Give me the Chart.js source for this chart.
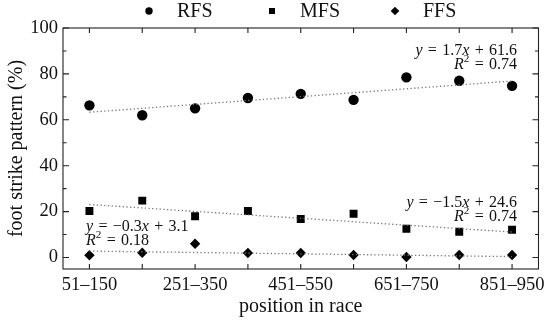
<!DOCTYPE html>
<html>
<head>
<meta charset="utf-8">
<script src="https://cdn.jsdelivr.net/npm/chart.js@4/dist/chart.umd.min.js"></script>
<style>
  html, body { margin: 0; padding: 0; background: #fff; }
  #wrap { width: 550px; height: 321px; }
</style>
</head>
<body>
<div id="wrap"><canvas id="fsChart" width="550" height="321"></canvas></div>
<script>
// positions in race, one per group
var positions = ["51–150", "151–250", "251–350", "351–450", "451–550", "551–650", "651–750", "751–850", "851–950"];
var seriesNames = ["RFS", "MFS", "FFS"];

// foot strike pattern (%)
var rfsValues = [66.3, 62.0, 65.0, 69.5, 71.3, 68.7, 78.5, 77.0, 74.8];
var mfsValues = [20.3, 24.8, 18.0, 20.3, 16.8, 19.1, 12.5, 11.2, 12.1];
var ffsValues = [1.0, 2.1, 6.0, 2.0, 2.0, 1.1, 0.2, 1.1, 1.1];

// linear fits as printed on the chart
var fitSlopes = [1.7, -1.5, -0.3];
var fitIntercepts = [61.6, 24.6, 3.1];
var fitR2 = [0.74, 0.74, 0.18];
// fit lines read at first and last group
var rfsTrend = [63.3, 76.9];
var mfsTrend = [23.1, 11.1];
var ffsTrend = [2.8, 0.4];

var yTicks = [0, 20, 40, 60, 80, 100];
var xTicks = [1, 3, 5, 7, 9];

var serif = "\"Liberation Serif\", \"DejaVu Serif\", \"Times New Roman\", serif";
var ink = "#111";
var sp = "\u2004"; // slightly wider space, like TeX math spacing

function toPoints(arr){
	return arr.map(function(v, i){ return {x: i + 1, y: v}; });
}
function trendPoints(t){
	return [{x: 1, y: t[0]}, {x: positions.length, y: t[1]}];
}
function fmt(v){
	return (v < 0 ? "\u2212" : "") + Math.abs(v).toFixed(1);
}

var markerStyles = ["circle", "rect", "rectRot"];

var scatterSet = function(name, vals, idx, r){
	return {
		type: "scatter",
		label: name,
		data: toPoints(vals),
		pointStyle: markerStyles[idx],
		pointRadius: r,
		pointHoverRadius: r,
		backgroundColor: "#000",
		borderColor: "#000",
		borderWidth: 0
	};
};
var trendSet = function(t){
	return {
		type: "line",
		label: "_fit",
		data: trendPoints(t),
		borderColor: "#777",
		borderWidth: 1.3,
		borderDash: [1.3, 2.4],
		pointRadius: 0,
		fill: false
	};
};

// draw rich text runs (italic vars, superscripts)
function drawRuns(ctx, runs, x, y, size, align){
	var widths = runs.map(function(r){
		ctx.font = (r.i ? "italic " : "") + (r.sup ? size * 0.7 : size) + "px " + serif;
		return ctx.measureText(r.t).width;
	});
	var total = widths.reduce(function(a, b){ return a + b; }, 0);
	var cx = align === "right" ? x - total : x;
	runs.forEach(function(r, k){
		ctx.font = (r.i ? "italic " : "") + (r.sup ? size * 0.7 : size) + "px " + serif;
		ctx.fillText(r.t, cx, r.sup ? y - size * 0.35 : y);
		cx += widths[k];
	});
}

var annotations = [
	{idx: 0, x: 517, y: 51, align: "right"},
	{idx: 1, x: 517, y: 203, align: "right"},
	{idx: 2, x: 86, y: 227, align: "left"}
];

var framePlugin = {
	id: "frame",
	afterDatasetsDraw: function(chart){
		var ctx = chart.ctx, a = chart.chartArea;
		var xs = chart.scales.x, ys = chart.scales.y;
		ctx.save();
		ctx.strokeStyle = "#222";
		ctx.lineWidth = 1.1;
		ctx.strokeRect(a.left, a.top, a.right - a.left, a.bottom - a.top);
		ctx.beginPath();
		for(var i = 1; i <= positions.length; i++){
			var px = xs.getPixelForValue(i);
			ctx.moveTo(px, a.bottom); ctx.lineTo(px, a.bottom - 5);
			ctx.moveTo(px, a.top); ctx.lineTo(px, a.top + 5);
		}
		for(var v = 0; v <= 100; v += 10){
			var py = ys.getPixelForValue(v);
			var len = v % 20 === 0 ? 6 : 3.5;
			ctx.moveTo(a.left, py); ctx.lineTo(a.left + len, py);
			ctx.moveTo(a.right, py); ctx.lineTo(a.right - len, py);
		}
		ctx.stroke();

		// fit annotations
		ctx.fillStyle = ink;
		ctx.textBaseline = "middle";
		annotations.forEach(function(an){
			var k = an.idx;
			drawRuns(ctx, [
				{t: "y", i: true},
				{t: sp + "=" + sp + fmt(fitSlopes[k])},
				{t: "x", i: true},
				{t: sp + "+" + sp + fmt(fitIntercepts[k])}
			], an.x, an.y, 16, an.align);
			drawRuns(ctx, [
				{t: "R", i: true},
				{t: "2", sup: true},
				{t: sp + "=" + sp + fitR2[k].toFixed(2)}
			], an.x, an.y + 13.5, 16, an.align);
		});

		// legend
		var lx = [149, 272, 395];
		var ly = 11;
		lx.forEach(function(x, k){
			ctx.fillStyle = "#000";
			ctx.beginPath();
			if(k === 0){
				ctx.arc(x, ly, 3.7, 0, Math.PI * 2);
			} else if(k === 1){
				ctx.rect(x - 3, ly - 3, 6, 6);
			} else {
				ctx.moveTo(x, ly - 4.3); ctx.lineTo(x + 4.3, ly); ctx.lineTo(x, ly + 4.3); ctx.lineTo(x - 4.3, ly);
				ctx.closePath();
			}
			ctx.fill();
			ctx.font = "20px " + serif;
			ctx.textAlign = "left";
			ctx.fillStyle = ink;
			ctx.fillText(seriesNames[k], x + 28, ly + 1);
		});
		ctx.restore();
	}
};

function makeChart(){
	new Chart("fsChart", {
		data: {
			datasets: [
				trendSet(rfsTrend),
				trendSet(mfsTrend),
				trendSet(ffsTrend),
				scatterSet(seriesNames[0], rfsValues, 0, 5.2),
				scatterSet(seriesNames[1], mfsValues, 1, 5.6),
				scatterSet(seriesNames[2], ffsValues, 2, 5.2)
			]
		},
		options: {
			responsive: false,
			animation: false,
			layout: {padding: {top: 28, right: 10, bottom: 0, left: 0}},
			plugins: {
				legend: {display: false},
				tooltip: {enabled: false}
			},
			scales: {
				x: {
					type: "linear",
					min: 0.5,
					max: 9.5,
					grid: {display: false, drawTicks: false},
					border: {display: false},
					afterBuildTicks: function(s){ s.ticks = xTicks.map(function(v){ return {value: v}; }); },
					afterFit: function(s){ s.height = 52; },
					ticks: {
						autoSkip: false,
						maxRotation: 0,
						padding: 5,
						color: ink,
						font: {family: serif, size: 18.5},
						callback: function(v){ return positions[v - 1]; }
					},
					title: {
						display: true,
						text: "position in race",
						color: ink,
						font: {family: serif, size: 20},
						padding: {top: 0, bottom: 2}
					}
				},
				y: {
					min: -5,
					max: 100,
					grid: {display: false, drawTicks: false},
					border: {display: false},
					afterBuildTicks: function(s){ s.ticks = yTicks.map(function(v){ return {value: v}; }); },
					afterFit: function(s){ s.width = 63; },
					ticks: {
						padding: 5,
						color: ink,
						font: {family: serif, size: 18.5}
					},
					title: {
						display: true,
						text: "foot strike pattern (%)",
						color: ink,
						font: {family: serif, size: 20},
						padding: {top: 5, bottom: 0}
					}
				}
			}
		},
		plugins: [framePlugin]
	});
}

document.addEventListener("DOMContentLoaded", function(){
	var loads = [
		document.fonts.load("18px \"Liberation Serif\""),
		document.fonts.load("italic 16px \"Liberation Serif\"")
	];
	Promise.all(loads).then(makeChart, makeChart);
});
</script>
</body>
</html>
